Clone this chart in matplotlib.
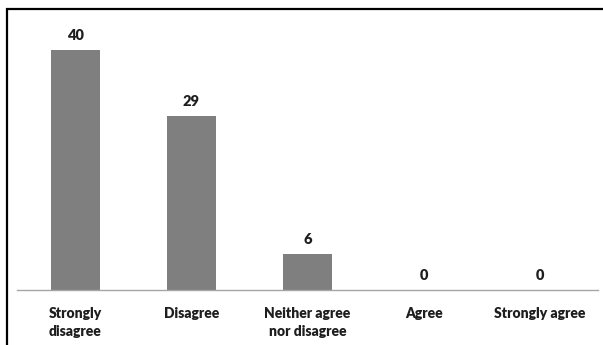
import matplotlib.pyplot as plt
from matplotlib.patches import Rectangle

categories = ["Strongly\ndisagree", "Disagree", "Neither agree\nnor disagree", "Agree", "Strongly agree"]
counts = [40, 29, 6, 0, 0]

W, H = 603, 345
fig = plt.figure(figsize=(W / 100, H / 100), dpi=100)
font = ['Lato', 'DejaVu Sans']

# outer chart border (right and bottom edges run off the canvas)
fig.add_artist(Rectangle((7 / W, -0.1), 1.2, 1 - 9.5 / H + 0.1, transform=fig.transFigure,
                         fill=False, edgecolor='black', linewidth=1.6))

ax = fig.add_axes([17 / W, (H - 290) / H, 581 / W, 270 / H])
x = range(len(categories))
bars = ax.bar(x, counts, width=0.42, color='#7f7f7f')
ax.set_xlim(-0.5, 4.5)
ax.set_ylim(0, 45)

for rect, v in zip(bars, counts):
    ax.annotate(str(v), (rect.get_x() + rect.get_width() / 2, v), xytext=(0, 5.5),
                textcoords='offset points', ha='center', va='bottom',
                fontsize=10.5, fontweight='heavy', color='#1e1e1e', family=font)

ax.set_xticks(list(x))
ax.set_xticklabels(categories, fontsize=10, fontweight='heavy', color='#1e1e1e',
                   family=font, linespacing=1.45)
ax.tick_params(axis='x', length=0, pad=12.5)
ax.set_yticks([])
for side in ['top', 'right', 'left']:
    ax.spines[side].set_visible(False)
ax.spines['bottom'].set_color('#a6a6a6')
ax.spines['bottom'].set_linewidth(1.0)

fig.savefig('out.png', dpi=100)
